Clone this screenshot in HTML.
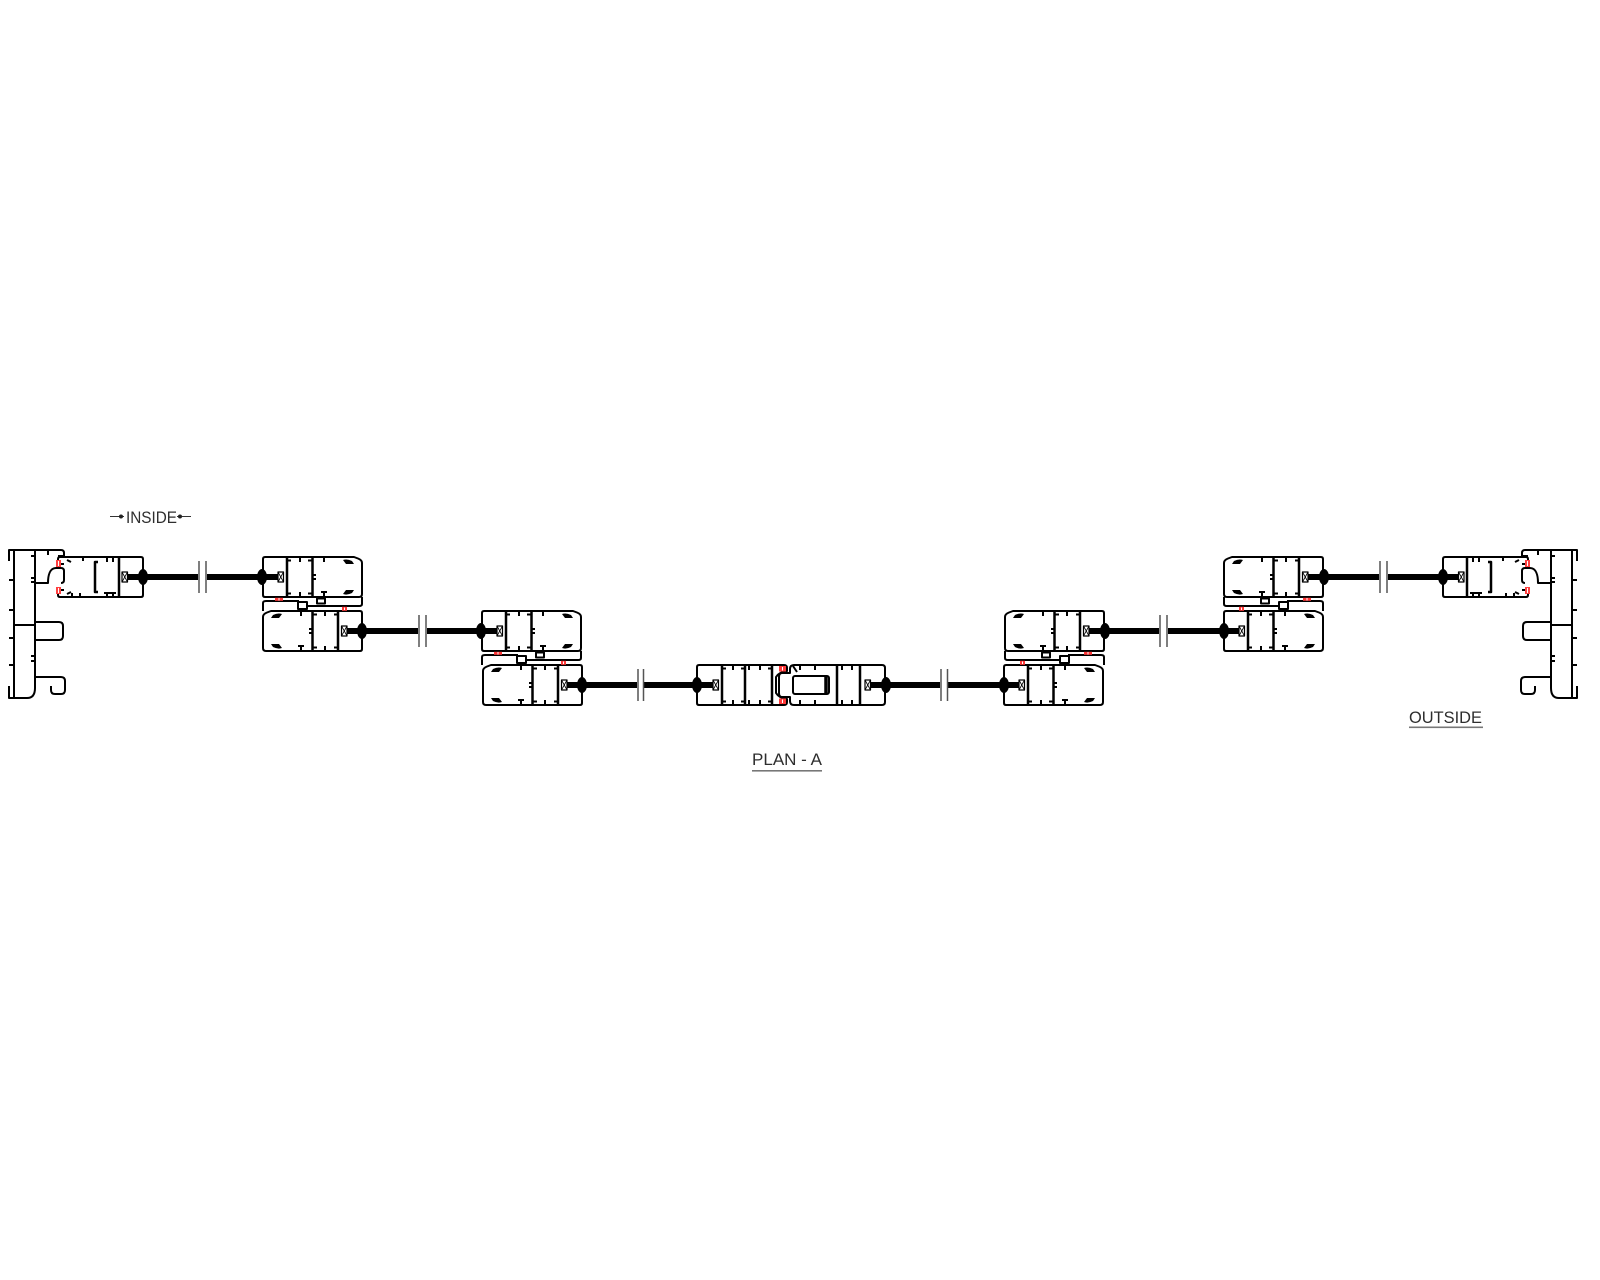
<!DOCTYPE html>
<html>
<head>
<meta charset="utf-8">
<style>
html,body{margin:0;padding:0;background:#fff;}
svg{display:block;}
text{font-family:"Liberation Sans",sans-serif;fill:#2e2e2e;}
</style>
</head>
<body>
<svg width="1600" height="1280" viewBox="0 0 1600 1280" xmlns="http://www.w3.org/2000/svg">
<rect width="1600" height="1280" fill="#fff"/>
<defs>
  <!-- pair sash, glass side at local x=0, 99 x 40 -->
  <g id="sp">
    <g fill="none" stroke="#000" stroke-width="2" stroke-linejoin="round">
      <path d="M2,0 H91 L95,1.5 Q99,3 99,6 V37 Q99,40 96,40 H2 Q0,40 0,38 V2 Q0,0 2,0Z"/>
      <path d="M24,0 V40 M49.5,0 V40" stroke-width="2.5"/>
      <path d="M24,3.5 H28 M24,36.5 H28 M45,3.5 H49.5 M45,36.5 H49.5 M37,0 V5 M37,40 V35 M49.5,18 H53 M49.5,22 H53 M61,0 V5 M61,40 V35 M58,35 H64"/>
      <rect x="15" y="15" width="5.5" height="10" stroke-width="1.2"/>
      <path d="M15,15 L20.5,25 M20.5,15 L15,25" stroke-width="0.8"/>
    </g>
    <path d="M80,3 Q84,1.5 89,4 L91,7 H83 Z M80,37 Q84,38.5 89,36 L91,33 H83 Z" fill="#000"/>
    <rect x="0" y="17" width="15" height="6" fill="#000"/>
  </g>

  <!-- end sash, glass side at local x=88 -->
  <g id="se">
    <g fill="none" stroke="#000" stroke-width="2" stroke-linejoin="round">
      <path d="M3,7 V2 Q3,0 5,0 H86 Q88,0 88,2 V38 Q88,40 86,40 H5 Q3,40 3,38 V33"/>
      <path d="M3,7 H9 M3,33 H9"/>
      <path d="M43,5 H40 V35 H43" stroke-width="2.5"/>
      <path d="M64,0 V40" stroke-width="2.5"/>
      <path d="M28,0 V4 M52,0 V5 M58,0 V5 M17,40 V36 M25,40 V36 M52,40 V35 M58,40 V35 M49,36 H61 M12,3 L16,5 M12,37 L16,35"/>
      <rect x="67" y="15" width="5.5" height="10" stroke-width="1.2"/>
      <path d="M67,15 L72.5,25 M72.5,15 L67,25" stroke-width="0.8"/>
    </g>
    <rect x="72.5" y="17" width="15.5" height="6" fill="#000"/>
    <g fill="#ff4040"><rect x="1" y="3" width="5" height="7"/><rect x="1" y="30" width="5" height="7"/></g>
    <path d="M3.5,4 V9 M3.5,31 V36" stroke="#fff" stroke-width="1"/>
  </g>

  <!-- interlock between paired sashes, top sash at y 0..40, bottom sash at 54..94 -->
  <g id="il">
    <g fill="none" stroke="#000" stroke-width="2" stroke-linejoin="round">
      <path d="M0,54 V46 Q0,44 3,44 H36"/>
      <path d="M99,40 V47 Q99,49 96,49 H44"/>
      <rect x="35" y="45" width="9" height="7"/>
      <rect x="54" y="41.5" width="8" height="5"/>
      <path d="M44,49 V45"/>
    </g>
    <rect x="12" y="40.8" width="8" height="3" fill="#ff3a3a"/>
    <rect x="79" y="49.8" width="5" height="4" fill="#ff3a3a"/>
    <path d="M16,41 V43.5 M81.5,50.5 V53" stroke="#fff" stroke-width="1"/>
  </g>

  <!-- left half of the drawing (mirrored for right half) -->
  <g id="lh">
    <!-- frame -->
    <g fill="none" stroke="#000" stroke-width="2" stroke-linejoin="round">
      <path d="M9,561 V550 H61 Q64,550 64,553 V556 H58"/>
      <path d="M14,550 V698 H27 Q35,698 35,688 V550"/>
      <path d="M9,580 H14 M9,610 H14 M9,638 H14 M9,665 H14 M9,686 V698 H14"/>
      <path d="M31,556 H35 M31,578 H35 M31,582 H35 M31,656 H35 M31,661 H35 M48,550 V555"/>
      <path d="M14,625 H35"/>
      <path d="M35,622 H59 Q63,622 63,626 V636 Q63,640 59,640 H35"/>
      <path d="M35,583 H48 C48,575 50,568 56,568 H61 Q64,568 64,571 V580 Q64,583 61,583"/>
      <path d="M35,677 H61 Q65,677 65,681 V690 Q65,694 61,694 H55 Q51,694 51,690 V686"/>
    </g>
    <!-- end sash -->
    <use href="#se" transform="translate(55,557)"/>
    <!-- pair 1 -->
    <use href="#sp" transform="translate(263,557)"/>
    <use href="#sp" transform="translate(362,611) scale(-1,1)"/>
    <use href="#il" transform="translate(263,557)"/>
    <!-- pair 2 -->
    <use href="#sp" transform="translate(482,611)"/>
    <use href="#sp" transform="translate(582,665) scale(-1,1)"/>
    <use href="#il" transform="translate(482,611)"/>
    <!-- glass row 1 -->
    <rect x="143" y="574" width="55" height="6" fill="#000"/>
    <rect x="207" y="574" width="56" height="6" fill="#000"/>
    <path d="M199,561 V593 M206,561 V593" stroke="#555" stroke-width="1.5"/>
    <!-- glass row 2 -->
    <rect x="362" y="628" width="56" height="6" fill="#000"/>
    <rect x="427" y="628" width="55" height="6" fill="#000"/>
    <path d="M419,615 V647 M426,615 V647" stroke="#555" stroke-width="1.5"/>
    <!-- blobs -->
    <ellipse cx="143" cy="577" rx="5" ry="8" fill="#000"/>
    <ellipse cx="262" cy="577" rx="5" ry="8" fill="#000"/>
    <ellipse cx="362" cy="631" rx="5" ry="8" fill="#000"/>
    <ellipse cx="481" cy="631" rx="5" ry="8" fill="#000"/>
  </g>
</defs>

<use href="#lh"/>
<use href="#lh" transform="translate(1586,0) scale(-1,1)"/>

<!-- row 3 glass -->
<rect x="582" y="682" width="55" height="6" fill="#000"/>
<rect x="644" y="682" width="53" height="6" fill="#000"/>
<path d="M638,669 V701 M643.5,669 V701" stroke="#555" stroke-width="1.5"/>
<rect x="885" y="682" width="55" height="6" fill="#000"/>
<rect x="948" y="682" width="56" height="6" fill="#000"/>
<path d="M941,669 V701 M947.5,669 V701" stroke="#555" stroke-width="1.5"/>
<ellipse cx="582" cy="685" rx="5" ry="8" fill="#000"/>
<ellipse cx="697" cy="685" rx="5" ry="8" fill="#000"/>
<ellipse cx="886" cy="685" rx="5" ry="8" fill="#000"/>
<ellipse cx="1004" cy="685" rx="5" ry="8" fill="#000"/>

<!-- center pair -->
<g fill="none" stroke="#000" stroke-width="2" stroke-linejoin="round">
  <path d="M699,665 H784 Q787,665 787,668 V671 Q779,672 776,677 V693 Q779,698 787,699 V702 Q787,705 784,705 H699 Q697,705 697,703 V667 Q697,665 699,665Z"/>
  <path d="M722,665 V705 M745,665 V705 M772,665 V705" stroke-width="2.5"/>
  <path d="M722,668.5 H726 M722,701.5 H726 M741,668.5 H745 M741,701.5 H745 M733,665 V670 M733,705 V700 M749,665 V670 M749,705 V700 M760,665 V670 M760,705 V700 M772,668.5 H768 M772,701.5 H768"/>
  <rect x="713" y="680" width="5.5" height="10" stroke-width="1.2"/>
  <path d="M713,680 L718.5,690 M718.5,680 L713,690" stroke-width="0.8"/>

  <path d="M794,665 H882 Q885,665 885,668 V702 Q885,705 882,705 H794 Q790,705 790,701 V697 H782 Q779,697 779,693 V677 Q779,673 782,673 H790 V669 Q790,665 794,665Z"/>
  <rect x="793" y="676" width="36" height="18" rx="2"/>
  <path d="M826,677 V693" stroke-width="3.5"/>
  <path d="M837,665 V705 M860,665 V705" stroke-width="2.5"/>
  <path d="M842,665 V670 M852,665 V670 M842,705 V700 M852,705 V700 M800,705 V700 M815,705 V700 M800,665 V670 M815,665 V670 M793,666 L797,672"/>
  <rect x="865" y="680" width="5.5" height="10" stroke-width="1.2"/>
  <path d="M865,680 L870.5,690 M870.5,680 L865,690" stroke-width="0.8"/>
</g>
<rect x="697" y="682" width="16" height="6" fill="#000"/>
<rect x="870.5" y="682" width="15" height="6" fill="#000"/>
<g fill="#ff3a3a"><rect x="779" y="666" width="7" height="5.5"/><rect x="779" y="698.5" width="7" height="5.5"/></g>
<path d="M782.5,667 V670.5 M782.5,699.5 V703" stroke="#fff" stroke-width="1"/>

<!-- INSIDE label -->
<path d="M110,516.5 H124 M177,516.5 H191" stroke="#333" stroke-width="1"/>
<circle cx="121" cy="516.5" r="2" fill="#222"/>
<circle cx="180" cy="516.5" r="2" fill="#222"/>
<text x="126" y="523" font-size="16.5" textLength="51" lengthAdjust="spacingAndGlyphs">INSIDE</text>

<!-- PLAN - A -->
<text x="752" y="765" font-size="16.5" textLength="70" lengthAdjust="spacingAndGlyphs">PLAN - A</text>
<rect x="752" y="770" width="70" height="1.6" fill="#777"/>

<!-- OUTSIDE -->
<text x="1409" y="723" font-size="16.5" textLength="73" lengthAdjust="spacingAndGlyphs">OUTSIDE</text>
<rect x="1409" y="726.5" width="74" height="1.6" fill="#777"/>
</svg>
</body>
</html>
